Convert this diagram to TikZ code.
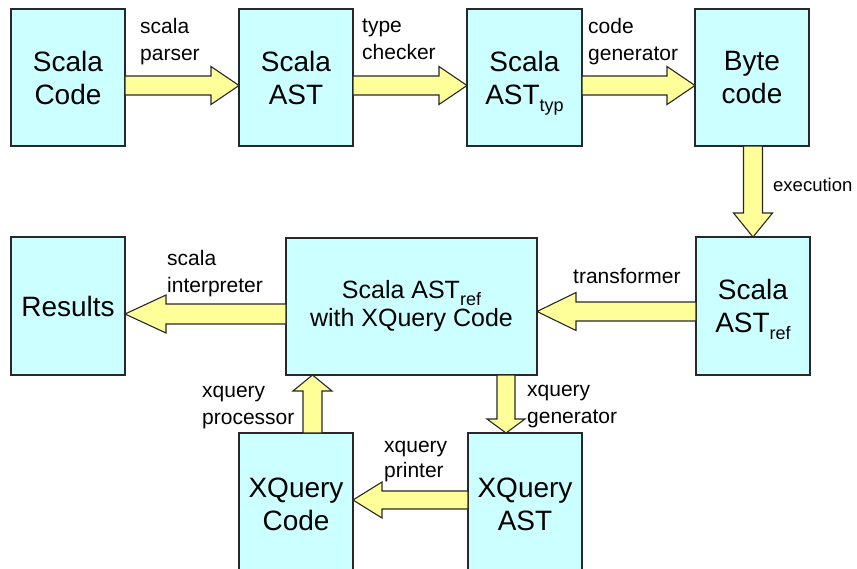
\documentclass[tikz,border=0pt]{standalone}
\usepackage{fontspec}
\setmainfont{Liberation Sans}
\usetikzlibrary{calc}
\definecolor{boxfill}{RGB}{204,255,255}
\definecolor{arrfill}{RGB}{255,255,153}
\definecolor{edge}{RGB}{40,40,40}
\newcommand\subtxt[1]{\raisebox{-7pt}[0pt][0pt]{\fontsize{18}{18}\selectfont #1}}
\newcommand\blockarr[5]{%
  \path (#1) coordinate (ba-s) (#2) coordinate (ba-t);
  \coordinate (ba-b) at ($(ba-t)!#3!(ba-s)$);
  \filldraw[arrowbody]
    ($(ba-s)!#4!90:(ba-t)$) -- ($(ba-b)!#4!90:(ba-t)$) -- ($(ba-b)!#5!90:(ba-t)$)
    -- (ba-t) -- ($(ba-b)!#5!-90:(ba-t)$) -- ($(ba-b)!#4!-90:(ba-t)$)
    -- ($(ba-s)!#4!-90:(ba-t)$) -- cycle;}
\tikzset{
  stagebox/.style={draw=edge, line width=1.2pt, fill=boxfill, inner sep=0pt, outer sep=0pt,
    minimum width=114pt, minimum height=137pt, align=center,
    font=\fontsize{28}{33}\selectfont},
  arrowbody/.style={draw=edge, line width=1.1pt, fill=arrfill, line join=miter},
  lbl/.style={anchor=base west, inner sep=0pt, align=left,
    font=\fontsize{21}{27}\selectfont},
}
\begin{document}
\begin{tikzpicture}[x=1pt,y=-1pt]
\useasboundingbox (0,0) rectangle (857,568);
\clip (0,0) rectangle (857,568);
% boxes
\node[stagebox] (code) at (68,77.5) {Scala\\Code};
\node[stagebox] (ast) at (296,77.5) {Scala\\AST};
\node[stagebox, minimum width=115pt] (typ) at (524.5,77.5) {Scala\\AST\subtxt{typ}};
\node[stagebox] (byte) at (752,77.5) {Byte\\code};
\node[stagebox, minimum height=138pt] (astref) at (753,306) {Scala\\AST\subtxt{ref}};
\node[stagebox, minimum width=251pt, font=\fontsize{25}{28}\selectfont] (big) at (411.5,306.5) {Scala AST\subtxt{ref}\\with XQuery Code};
\node[stagebox, minimum height=138pt] (results) at (68,306) {Results};
\node[stagebox, minimum height=142pt] (xcode) at (296,504) {XQuery\\Code};
\node[stagebox, minimum height=142pt] (xast) at (525,504) {XQuery\\AST};
% arrows
\blockarr{$(code.east)+(0,8)$}{$(ast.west)+(0,8)$}{28pt}{9.5pt}{19pt}
\blockarr{$(ast.east)+(0,8)$}{$(typ.west)+(0,8)$}{28pt}{9.5pt}{19pt}
\blockarr{$(typ.east)+(0,8)$}{$(byte.west)+(0,8)$}{28pt}{9.5pt}{19pt}
\blockarr{$(byte.south)+(1,0)$}{astref.north}{24pt}{9.5pt}{19.5pt}
\blockarr{$(astref.west)+(0,5.5)$}{$(big.east)+(0,5)$}{39pt}{9.5pt}{19pt}
\blockarr{$(big.west)+(0,7.5)$}{$(results.east)+(0,8)$}{41pt}{10pt}{19pt}
\blockarr{$(xcode.north)+(16.5,0)$}{$(big.south)+(-99,0)$}{16pt}{9.5pt}{19.5pt}
\blockarr{$(big.south)+(94.5,0)$}{$(xast.north)+(-19,0)$}{14pt}{9pt}{19pt}
\blockarr{$(xast.west)+(0,-4)$}{$(xcode.east)+(0,-4)$}{29pt}{9pt}{18pt}
% labels (base anchor = baseline of the last line)
\node[lbl] (l1) at (140,60) {scala\\parser};
\node[lbl] (l2) at (362,59) {type\\checker};
\node[lbl] (l3) at (588,60) {code\\generator};
\node[lbl, font=\fontsize{18.5}{22}\selectfont] (l4) at (773,191) {execution};
\node[lbl] (l5) at (573,283) {transformer};
\node[lbl] (l6) at (167,292) {scala\\interpreter};
\node[lbl] (l7) at (202,424) {xquery\\processor};
\node[lbl] (l8) at (527,423) {xquery\\generator};
\node[lbl, font=\fontsize{21}{25}\selectfont] (l9) at (384,477) {xquery\\printer};
\end{tikzpicture}
\end{document}
